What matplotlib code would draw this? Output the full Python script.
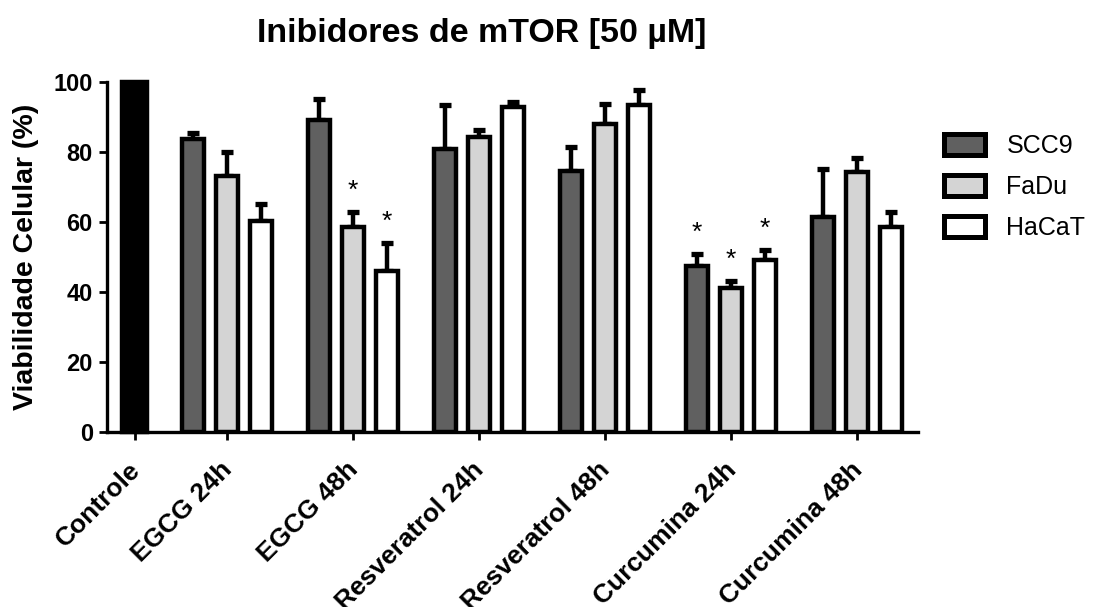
import numpy as np
import matplotlib
matplotlib.use("Agg")
import matplotlib.pyplot as plt
import matplotlib.transforms as mtransforms
from matplotlib.patches import Patch

plt.rcParams["font.family"] = ["Liberation Sans", "DejaVu Sans"]

# === data ===
groups = ["EGCG 24h", "EGCG 48h", "Resveratrol 24h", "Resveratrol 48h",
          "Curcumina 24h", "Curcumina 48h"]
control_label = "Controle"
control_value = 100

scc9 = [83.5, 89.1, 80.9, 74.6, 47.4, 61.3]
scc9_err = [1.9, 6.0, 12.5, 6.8, 3.5, 13.9]
fadu = [73.0, 58.4, 84.3, 87.9, 41.1, 74.3]
fadu_err = [7.0, 4.5, 1.9, 5.7, 1.9, 3.8]
hacat = [60.3, 45.9, 92.7, 93.3, 49.0, 58.6]
hacat_err = [4.7, 8.1, 1.6, 4.3, 2.9, 4.1]

# significance marks (series, group index)
stars = [("FaDu", 1), ("HaCaT", 1), ("SCC9", 4), ("FaDu", 4), ("HaCaT", 4)]

# === plotting ===
fig = plt.figure(figsize=(10.95, 6.07), dpi=100)
ax = fig.add_axes([0.0974, 0.2888, 0.741, 0.5766])

x = np.arange(1, len(groups) + 1)
x_ctrl = 0.272
pitch = 0.27
width = 0.175
lw = 3.2

series = [("SCC9", scc9, scc9_err, "#606060"),
          ("FaDu", fadu, fadu_err, "#d4d4d4"),
          ("HaCaT", hacat, hacat_err, "white")]

ax.bar([x_ctrl], [control_value], width=0.2, color="black", edgecolor="black",
       linewidth=lw, zorder=3, clip_on=False)

tops = {}
for i, (name, vals, errs, col) in enumerate(series):
    xs = x + (i - 1) * pitch
    ax.bar(xs, vals, width=width, color=col, edgecolor="black",
           linewidth=lw, zorder=3)
    ax.errorbar(xs, vals, yerr=[np.zeros(len(vals)), errs], fmt="none",
                ecolor="black", elinewidth=3.2, capsize=4.5, capthick=3.8,
                zorder=2)
    tops[name] = (xs, np.array(vals) + np.array(errs))

for name, gi in stars:
    xs, t = tops[name]
    ax.text(xs[gi], t[gi] + 4.0, "*", ha="center", va="baseline",
            fontsize=19)

ax.set_xlim(0.048, 6.486)
ax.set_ylim(0, 100)
ax.set_yticks([0, 20, 40, 60, 80, 100])
xticks = [x_ctrl] + list(x)
ax.set_xticks(xticks)
ax.set_xticklabels([])

# rotated category labels, nudged a little left of the ticks
trans = mtransforms.blended_transform_factory(ax.transData, ax.transAxes)
trans = trans + mtransforms.ScaledTranslation(-7 / 100, -26 / 100,
                                               fig.dpi_scale_trans)
for xt, lab in zip(xticks, [control_label] + groups):
    ax.text(xt, 0, lab, transform=trans, rotation=45, ha="right", va="top",
            rotation_mode="anchor", fontweight="bold", fontsize=19,
            clip_on=False)

for lab in ax.get_yticklabels():
    lab.set_fontweight("bold")
    lab.set_fontsize(17)

for s in ["top", "right"]:
    ax.spines[s].set_visible(False)
for s in ["left", "bottom"]:
    ax.spines[s].set_linewidth(2.4)
ax.tick_params(axis="both", direction="out", length=6, width=2, pad=4)

fig.text(0.44, 1 - 42 / 607, "Inibidores de mTOR [50 µM]", ha="center",
         va="baseline", fontsize=24.5, fontweight="bold")
fig.text(26 / 1095, 1 - 257 / 607, "Viabilidade Celular (%)", rotation=90,
         ha="center", va="center", fontsize=20.5, fontweight="bold")

handles = [Patch(facecolor=c, edgecolor="black", linewidth=3.6, label=n)
           for n, _, _, c in series]
fig.legend(handles=handles, loc="upper left",
           bbox_to_anchor=(944 / 1095, 1 - 134 / 607), frameon=False,
           fontsize=18, handlelength=1.65, handleheight=0.88,
           handletextpad=0.85, labelspacing=0.68, borderpad=0,
           borderaxespad=0)

fig.savefig("out.png", dpi=100)
